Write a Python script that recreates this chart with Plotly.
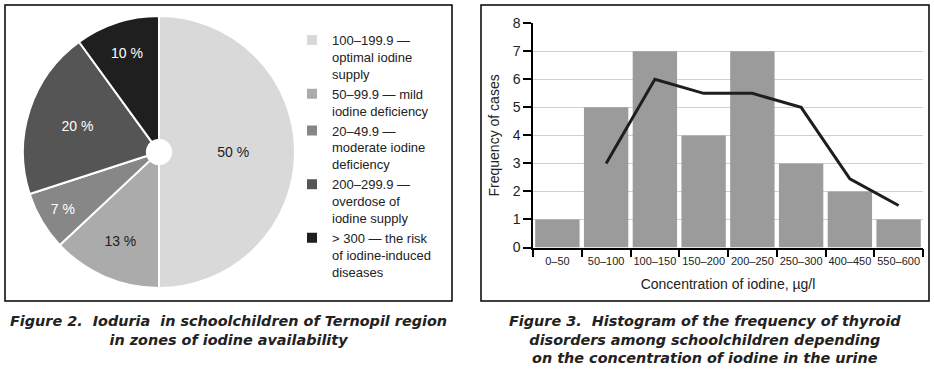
import plotly.graph_objects as go

# ---- data ----
pie_labels = [
    "100–199.9 —<br>optimal iodine<br>supply",
    "50–99.9 — mild<br>iodine deficiency",
    "20–49.9 —<br>moderate iodine<br>deficiency",
    "200–299.9 —<br>overdose of<br>iodine supply",
    "> 300 — the risk<br>of iodine-induced<br>diseases",
]
pie_values = [50, 13, 7, 20, 10]
pie_colors = ["#d9d9d9", "#ababab", "#878787", "#555555", "#1f1f1f"]
pie_text_colors = ["#222222", "#222222", "#ffffff", "#ffffff", "#ffffff"]

categories = ["0–50", "50–100", "100–150", "150–200", "200–250", "250–300", "400–450", "550–600"]
bar_values = [1, 5, 7, 4, 7, 3, 2, 1]
line_values = [None, 3, 6, 5.5, 5.5, 5, 2.45, 1.5]

FONT = "Liberation Sans, Arial, sans-serif"
CAP_FONT = "DejaVu Sans, Liberation Sans, sans-serif"
W, H = 934, 372

def px_x(x):
    return x / W

def px_y(y):
    return 1 - y / H

fig = go.Figure()

fig.add_trace(go.Pie(
    labels=pie_labels,
    values=pie_values,
    sort=False,
    direction="clockwise",
    rotation=0,
    hole=0.09,
    marker=dict(colors=pie_colors, line=dict(color="white", width=2)),
    texttemplate="%{value} %",
    textposition="inside",
    insidetextorientation="horizontal",
    textfont=dict(family=FONT, size=14, color=pie_text_colors),
    domain=dict(x=[px_x(23), px_x(295)], y=[px_y(288), px_y(16)]),
    showlegend=True,
    hoverinfo="label+value",
))

fig.add_trace(go.Bar(
    x=categories, y=bar_values,
    marker=dict(color="#9b9b9b", line=dict(width=0)),
    xaxis="x", yaxis="y", showlegend=False,
))
fig.add_trace(go.Scatter(
    x=categories, y=line_values, mode="lines",
    line=dict(color="#1e1e1e", width=3),
    xaxis="x", yaxis="y", showlegend=False,
))

fig.update_layout(
    width=W, height=H,
    margin=dict(l=0, r=0, t=0, b=0, autoexpand=False),
    paper_bgcolor="white", plot_bgcolor="white",
    font=dict(family=FONT, color="#222222", size=14),
    bargap=0.09,
    legend=dict(
        x=px_x(292), y=px_y(25), xanchor="left", yanchor="top",
        font=dict(family=FONT, size=13, color="#222222"),
        valign="top", bgcolor="rgba(0,0,0,0)", borderwidth=0,
        traceorder="normal",
    ),
    xaxis=dict(
        domain=[px_x(533), px_x(923)], anchor="y",
        type="category", range=[-0.5, 7.5],
        showline=True, linecolor="black", linewidth=1.5,
        ticks="outside", ticklen=8, tickwidth=1.5, tickcolor="black",
        tickson="boundaries", showgrid=False, tickangle=0, automargin=False,
        ticklabelstandoff=3,
        tickfont=dict(family=FONT, size=11, color="#222222"),
        title=dict(text="Concentration of iodine, µg/l", font=dict(family=FONT, size=14, color="#222222"), standoff=13),
    ),
    yaxis=dict(
        domain=[px_y(247.5), px_y(23.3)], anchor="x",
        range=[0, 8], dtick=1, automargin=False,
        showline=True, linecolor="black", linewidth=1.5,
        ticks="outside", ticklen=8, tickwidth=1.5, tickcolor="black",
        showgrid=True, gridcolor="#cfcfcf", gridwidth=1, zeroline=False,
        tickfont=dict(family=FONT, size=14, color="#222222"),
        title=dict(text="Frequency of cases", font=dict(family=FONT, size=14, color="#222222"), standoff=10),
    ),
    shapes=[
        dict(type="rect", xref="paper", yref="paper",
             x0=px_x(5), x1=px_x(452), y0=px_y(301), y1=px_y(5),
             line=dict(color="black", width=1.5), fillcolor="rgba(0,0,0,0)"),
        dict(type="rect", xref="paper", yref="paper",
             x0=px_x(481), x1=px_x(929), y0=px_y(301), y1=px_y(5),
             line=dict(color="black", width=1.5), fillcolor="rgba(0,0,0,0)"),
    ],
    annotations=[
        dict(xref="paper", yref="paper", x=px_x(228), y=px_y(311), xanchor="center", yanchor="top",
             text="<b><i>Figure 2.  Ioduria  in schoolchildren of Ternopil region<br>in zones of iodine availability</i></b>",
             showarrow=False, align="center", font=dict(family=CAP_FONT, size=14.4, color="#222222")),
        dict(xref="paper", yref="paper", x=px_x(705), y=px_y(311), xanchor="center", yanchor="top",
             text="<b><i>Figure 3.  Histogram of the frequency of thyroid<br>disorders among schoolchildren depending<br>on the concentration of iodine in the urine</i></b>",
             showarrow=False, align="center", font=dict(family=CAP_FONT, size=14.4, color="#222222")),
    ],
)

fig.write_html(
    "out.html",
    config={"displayModeBar": False},
    post_script="document.body.style.margin='0';document.body.style.overflow='hidden';",
)
